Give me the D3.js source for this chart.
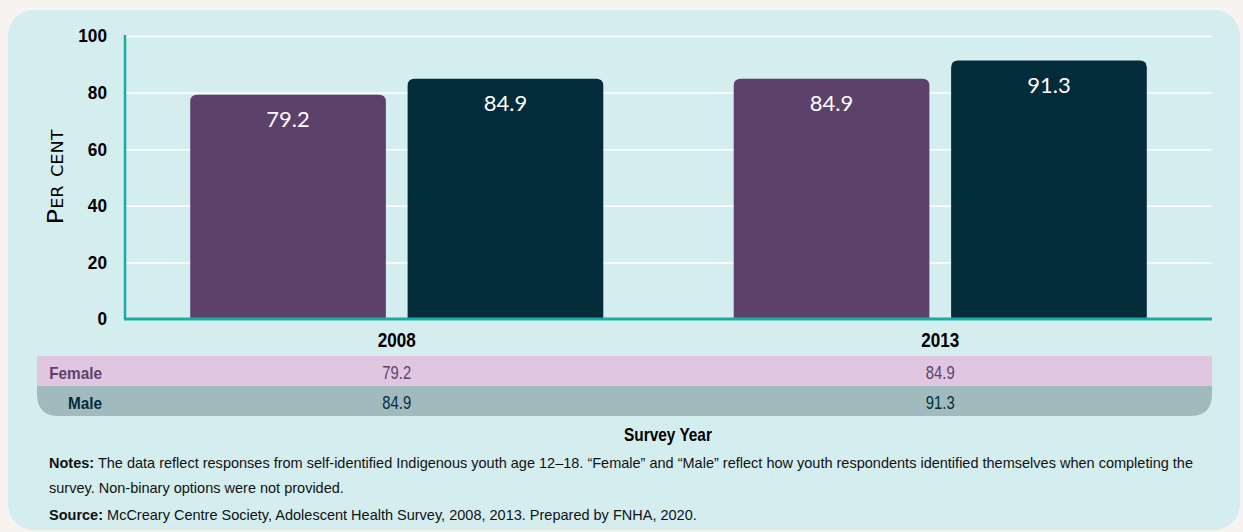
<!DOCTYPE html>
<html>
<head>
<meta charset="utf-8">
<script src="https://cdn.jsdelivr.net/npm/d3@7"></script>
<style>
  html, body { margin: 0; padding: 0; background: #f7f3f0; }
  svg { display: block; }
</style>
</head>
<body>
<div id="chart-area"></div>
<script>
const YEARS = ['2008', '2013'];
const GROUPS = ['Female', 'Male'];
const FEMALE = [79.2, 84.9];
const MALE = [84.9, 91.3];
const Y_TICKS = [0, 20, 40, 60, 80, 100];
const COLORS = { Female: '#5c416b', Male: '#032c3a' };
const ROW_FILL = { Female: '#e0c6e0', Male: '#a0babd' };
const NOTES = [
  ['Notes:', ' The data reflect responses from self-identified Indigenous youth age 12\u201318. \u201cFemale\u201d and \u201cMale\u201d reflect how youth respondents identified themselves when completing the'],
  ['', 'survey. Non-binary options were not provided.'],
  ['Source:', ' McCreary Centre Society, Adolescent Health Survey, 2008, 2013. Prepared by FNHA, 2020.'],
];

const W = 1243, H = 532;
const NARROW = '"Liberation Sans", Arial, sans-serif';
const plot = { left: 125, right: 1212, top: 36, bottom: 319 };

const values = { Female: FEMALE, Male: MALE };
const DATA = YEARS.map((yr, i) => ({ year: yr, Female: FEMALE[i], Male: MALE[i] }));

// squeeze text horizontally to mimic the condensed face of the original
const condense = (sel, k) => {
  sel.each(function () {
    const len = this.getComputedTextLength();
    d3.select(this)
      .attr('textLength', len * k)
      .attr('lengthAdjust', 'spacingAndGlyphs');
  });
};

const svg = d3.select('#chart-area')
  .append('svg')
  .attr('width', W)
  .attr('height', H);

// card background
svg.append('rect')
  .attr('x', 8).attr('y', 10)
  .attr('width', 1232).attr('height', 520)
  .attr('rx', 26)
  .attr('fill', '#d4edee');

const x0 = d3.scaleBand()
  .domain(YEARS)
  .range([plot.left, plot.right])
  .paddingInner(0.24)
  .paddingOuter(0.12);

const x1 = d3.scaleBand()
  .domain(GROUPS)
  .range([0, x0.bandwidth()])
  .paddingInner(0.1);

const y = d3.scaleLinear()
  .domain([0, 100])
  .range([plot.bottom, plot.top]);

// gridlines
const yAxis = d3.axisLeft(y)
  .tickValues(Y_TICKS)
  .tickSize(-(plot.right - plot.left))
  .tickFormat(d3.format('d'))
  .tickPadding(18);

const gy = svg.append('g')
  .attr('transform', `translate(${plot.left},0)`)
  .call(yAxis);
gy.select('.domain').remove();
gy.selectAll('.tick line')
  .attr('stroke', '#ffffff')
  .attr('stroke-width', 1.5);
gy.selectAll('.tick text')
  .attr('font-family', NARROW)
  .attr('font-weight', 'bold')
  .attr('font-size', 18.5)
  .attr('fill', '#000')
  .call(condense, 0.93);

// bars
const rr = 7;
const topRounded = (x, yTop, w, h) => {
  return `M${x},${yTop + h}V${yTop + rr}Q${x},${yTop} ${x + rr},${yTop}` +
    `H${x + w - rr}Q${x + w},${yTop} ${x + w},${yTop + rr}V${yTop + h}Z`;
};

const groups = svg.selectAll('.year-group')
  .data(DATA)
  .enter()
  .append('g')
  .attr('class', 'year-group')
  .attr('transform', (d) => `translate(${x0(d.year)},0)`);

const bars = groups.selectAll('.bar')
  .data((d) => GROUPS.map((g) => ({ key: g, value: d[g] })))
  .enter();

bars.append('path')
  .attr('class', 'bar')
  .attr('fill', (d) => COLORS[d.key])
  .attr('d', (d) => topRounded(x1(d.key), y(d.value), x1.bandwidth(), y(0) - y(d.value)));

bars.append('text')
  .attr('x', (d) => x1(d.key) + x1.bandwidth() / 2)
  .attr('y', (d) => y(d.value) + 32)
  .attr('text-anchor', 'middle')
  .attr('font-family', 'Lato, sans-serif')
  .attr('font-size', 22)
  .attr('fill', '#ffffff')
  .text((d) => d.value.toFixed(1));

// axis lines
svg.append('line')
  .attr('x1', plot.left).attr('x2', plot.left)
  .attr('y1', plot.top - 1).attr('y2', plot.bottom)
  .attr('stroke', '#1aaca2').attr('stroke-width', 2.5);
svg.append('line')
  .attr('x1', plot.left - 1).attr('x2', plot.right)
  .attr('y1', plot.bottom).attr('y2', plot.bottom)
  .attr('stroke', '#1aaca2').attr('stroke-width', 3);

// y axis title
svg.append('text')
  .attr('transform', 'translate(63,177) rotate(-90)')
  .attr('text-anchor', 'middle')
  .attr('font-family', '"DejaVu Sans", sans-serif')
  .attr('font-size', 22)
  .attr('font-variant', 'small-caps')
  .attr('fill', '#000')
  .text('Per cent')
  .attr('textLength', 95)
  .attr('lengthAdjust', 'spacingAndGlyphs');

// data table
const tableLeft = 37;
const rowY = { Female: 356, Male: 386 };
const rowH = 30;
const colX = (yr) => x0(yr) + x0.bandwidth() / 2;

svg.selectAll('.year-label')
  .data(YEARS)
  .enter()
  .append('text')
  .attr('x', (d) => colX(d))
  .attr('y', 347)
  .attr('text-anchor', 'middle')
  .attr('font-family', NARROW)
  .attr('font-weight', 'bold')
  .attr('font-size', 19.5)
  .attr('fill', '#000')
  .text((d) => d)
  .call(condense, 0.875);

// female row (square), male row (rounded bottom)
svg.append('rect')
  .attr('x', tableLeft).attr('y', rowY.Female)
  .attr('width', plot.right - tableLeft).attr('height', rowH)
  .attr('fill', ROW_FILL.Female);

const mr = 22, mx = tableLeft, mw = plot.right - tableLeft, my = rowY.Male;
svg.append('path')
  .attr('fill', ROW_FILL.Male)
  .attr('d', `M${mx},${my}H${mx + mw}V${my + rowH - mr}Q${mx + mw},${my + rowH} ${mx + mw - mr},${my + rowH}` +
    `H${mx + mr}Q${mx},${my + rowH} ${mx},${my + rowH - mr}Z`);

GROUPS.forEach((g) => {
  svg.append('text')
    .attr('x', 102)
    .attr('y', rowY[g] + 23)
    .attr('text-anchor', 'end')
    .attr('font-family', NARROW)
    .attr('font-weight', 'bold')
    .attr('font-size', 17)
    .attr('fill', COLORS[g])
    .text(g)
    .call(condense, 0.9);

  svg.selectAll(`.cell-${g}`)
    .data(values[g])
    .enter()
    .append('text')
    .attr('x', (d, i) => colX(YEARS[i]))
    .attr('y', rowY[g] + 23)
    .attr('text-anchor', 'middle')
    .attr('font-family', NARROW)
    .attr('font-size', 18.5)
    .attr('fill', COLORS[g])
    .text((d) => d.toFixed(1))
    .call(condense, 0.8);
});

// x axis title
svg.append('text')
  .attr('x', 668)
  .attr('y', 441)
  .attr('text-anchor', 'middle')
  .attr('font-family', NARROW)
  .attr('font-weight', 'bold')
  .attr('font-size', 19)
  .attr('fill', '#000')
  .text('Survey Year')
  .call(condense, 0.81);

// notes
const noteY = [468, 493, 520];
const noteText = NOTES.map((line, i) => {
  const t = svg.append('text')
    .attr('x', 49)
    .attr('y', noteY[i])
    .attr('font-family', NARROW)
    .attr('font-size', 15)
    .attr('fill', '#111');
  if (line[0]) t.append('tspan').attr('font-weight', 'bold').text(line[0]);
  t.append('tspan').text(line[1]);
  return t;
});
// first line runs to about x = 1193 in the original
const noteK = 1144 / noteText[0].node().getComputedTextLength();
noteText.forEach((t) => t.call(condense, noteK));
</script>
</body>
</html>
